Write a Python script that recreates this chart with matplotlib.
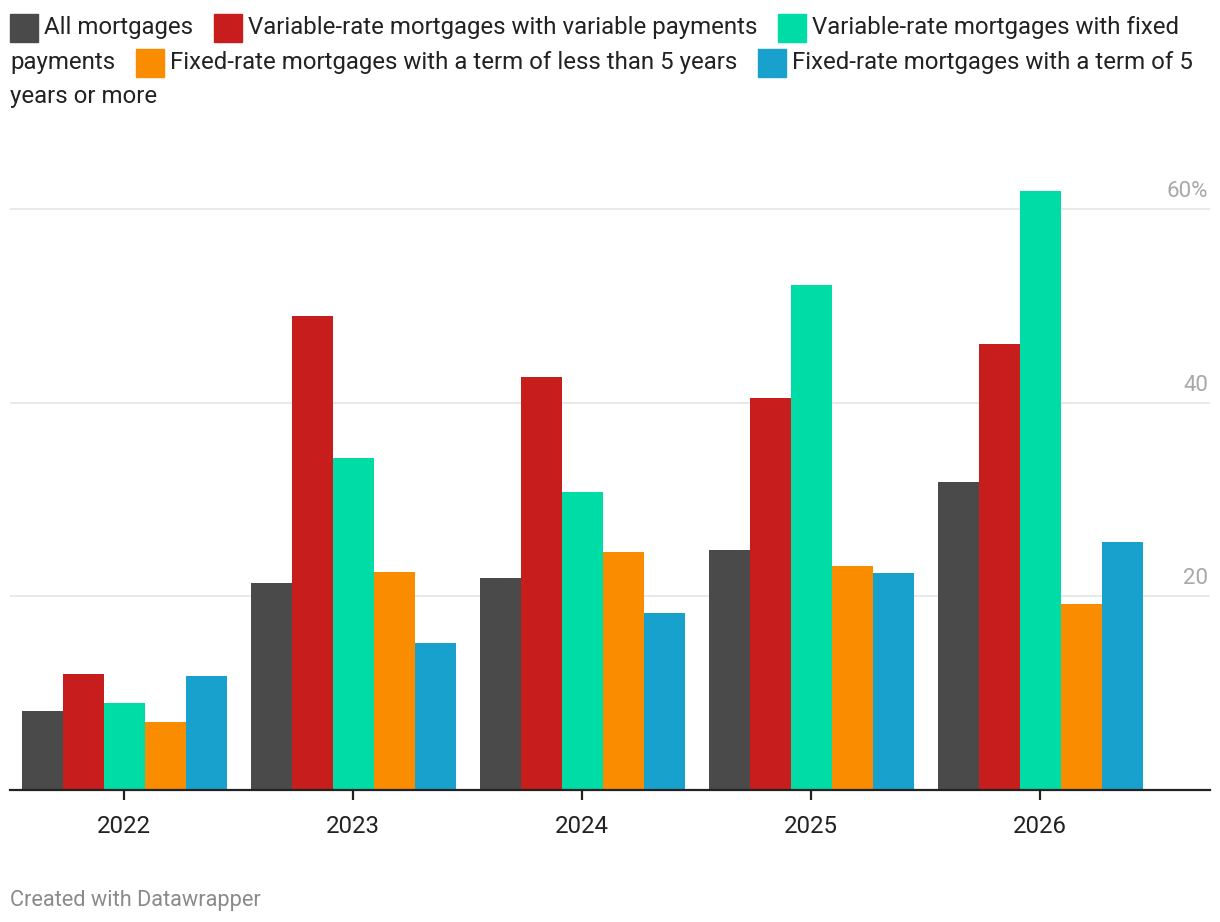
import numpy as np
import matplotlib
matplotlib.use("Agg")
import matplotlib.pyplot as plt
from matplotlib.patches import Rectangle
from matplotlib import transforms

plt.rcParams['font.family'] = ['Roboto', 'DejaVu Sans']

years = ['2022', '2023', '2024', '2025', '2026']
series_names = [
    'All mortgages',
    'Variable-rate mortgages with variable payments',
    'Variable-rate mortgages with fixed payments',
    'Fixed-rate mortgages with a term of less than 5 years',
    'Fixed-rate mortgages with a term of 5 years or more',
]
all_mortgages = [8.2, 21.4, 21.9, 24.8, 31.8]
var_var = [12.0, 49.0, 42.7, 40.5, 46.1]
var_fixed = [9.0, 34.3, 30.8, 52.2, 61.9]
fixed_short = [7.0, 22.5, 24.6, 23.1, 19.2]
fixed_long = [11.8, 15.2, 18.3, 22.4, 25.6]
colors = ['#4a4a4a', '#c71e1d', '#00dca6', '#fa8c00', '#18a1cd']
ytick_vals = [20, 40, 60]
ytick_labels = ['20', '40', '60%']

W, H = 1220, 922
fig = plt.figure(figsize=(W / 100, H / 100), dpi=100)
ax = fig.add_axes([10 / W, 1 - 790 / H, 1200 / W, (790 - 185) / H])

data = [all_mortgages, var_var, var_fixed, fixed_short, fixed_long]
x = np.arange(len(years))
bw = 0.179
for i, vals in enumerate(data):
    ax.bar(x + (i - 2) * bw, vals, width=bw, color=colors[i], linewidth=0, zorder=3)

ax.set_xlim(-0.498, 4.742)
ax.set_ylim(0, 62.5)

for s in ['top', 'right', 'left']:
    ax.spines[s].set_visible(False)
ax.spines['bottom'].set_color('#222222')
ax.spines['bottom'].set_linewidth(1.6)
ax.spines['bottom'].set_zorder(5)

ax.set_xticks(x)
ax.set_xticklabels(years, fontsize=17.3, color='#222222')
ax.tick_params(axis='x', length=7, width=1.6, color='#222222', pad=11)

ax.set_yticks(ytick_vals)
ax.tick_params(axis='y', length=0, labelleft=False)
ax.grid(axis='y', color='#e3e3e3', linewidth=1.1, zorder=0)

off = transforms.offset_copy(ax.get_yaxis_transform(), fig=fig, x=-2, y=12, units='dots')
for v, lab in zip(ytick_vals, ytick_labels):
    ax.text(1.0, v, lab, transform=off, ha='right', va='baseline',
            fontsize=16, color='#a8a8a8')

# legend (wrapped flow, as in the original)
fig.canvas.draw()
renderer = fig.canvas.get_renderer()
legend_fs = 17.3
txt_color = '#222222'
lines = [
    [(0, 'All mortgages'), (1, 'Variable-rate mortgages with variable payments'),
     (2, 'Variable-rate mortgages with fixed')],
    [(None, 'payments'), (3, 'Fixed-rate mortgages with a term of less than 5 years'),
     (4, 'Fixed-rate mortgages with a term of 5')],
    [(None, 'years or more')],
]
baselines = [34, 69, 103]
sq = 28
for line, base in zip(lines, baselines):
    cx = 10
    for ci, label in line:
        if ci is not None:
            top = base - 20
            fig.patches.append(Rectangle((cx / W, 1 - (top + sq) / H), sq / W, sq / H,
                                         transform=fig.transFigure, color=colors[ci]))
            cx += sq + 6
        t = fig.text(cx / W, 1 - base / H, label, fontsize=legend_fs, color=txt_color,
                     va='baseline', ha='left')
        bb = t.get_window_extent(renderer)
        cx += bb.width + 21

fig.text(10 / W, 1 - 906 / H, 'Created with Datawrapper', fontsize=15.7,
         color='#8a8a8a', va='baseline', ha='left')

fig.savefig('out.png', dpi=100, facecolor='white')
